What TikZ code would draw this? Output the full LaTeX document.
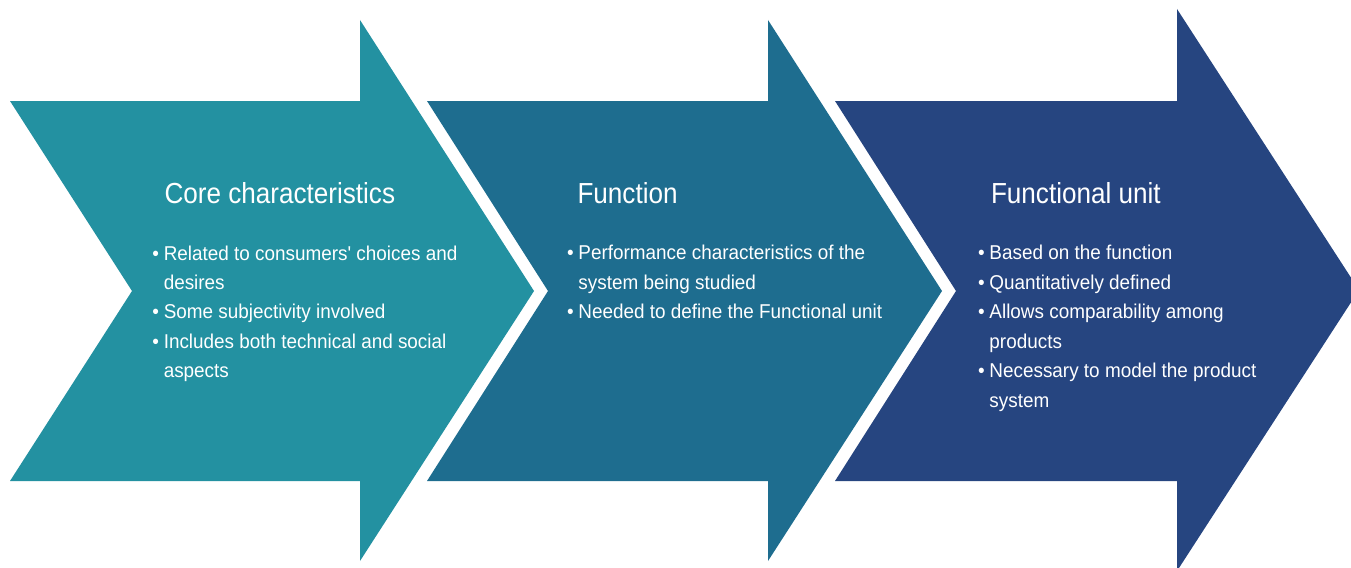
\documentclass[tikz,border=0pt]{standalone}
\usepackage{fontspec}
\setmainfont{Liberation Sans}[FakeStretch=0.9]
\newfontfamily\listfont{Liberation Sans}[FakeStretch=0.945]

\definecolor{coreteal}{RGB}{35,145,161}
\definecolor{funcblue}{RGB}{30,109,143}
\definecolor{unitnavy}{RGB}{38,69,128}

\newcommand{\bitem}[1]{\makebox[8.6pt][l]{\textbullet}#1}
\newcommand{\bcont}[1]{\hspace*{8.6pt}#1}

\tikzset{every picture/.style={line width=0.75pt}}
\tikzset{
  chevron/.style={draw=none},
  titletext/.style={anchor=base west,inner sep=0pt,text=white,font=\fontsize{21.75}{26}\selectfont},
  listtext/.style={anchor=base west,inner sep=0pt,text=white,align=left,font=\listfont\fontsize{15}{22.1}\selectfont}
}

\begin{document}
\begin{tikzpicture}[x=0.75pt,y=0.75pt,yscale=-1,xscale=1]
\useasboundingbox (0,0) rectangle (1351,567);
\clip (0,0) rectangle (1351,567);

%Shape: Chevron Arrow [id:core]
\fill [chevron, fill=coreteal] (10,101) -- (360,101) -- (360,20) -- (534,291) -- (360,561) -- (360,481) -- (10,481) -- (132,291) -- cycle ;
%Shape: Chevron Arrow [id:func]
\fill [chevron, fill=funcblue] (427,101) -- (768,101) -- (768,20) -- (942,291) -- (768,561) -- (768,481) -- (427,481) -- (548,291) -- cycle ;
%Shape: Chevron Arrow [id:unit]
\fill [chevron, fill=unitnavy] (835,101) -- (1177,101) -- (1177,9) -- (1359,290) -- (1177,571) -- (1177,481) -- (835,481) -- (956,291) -- cycle ;

% Text Node (base = last line)
\draw (164,203) node [titletext] (coretitle) {Core characteristics};
% Text Node
\draw (151.8,377.9) node [listtext] (corelist) {\bitem{Related to consumers' choices and}\\ \bcont{desires}\\ \bitem{Some subjectivity involved}\\ \bitem{Includes both technical and social}\\ \bcont{aspects}};
% Text Node
\draw (577,203) node [titletext] (functitle) {Function};
% Text Node
\draw (566.5,318.9) node [listtext] (funclist) {\bitem{Performance characteristics of the}\\ \bcont{system being studied}\\ \bitem{Needed to define the Functional unit}};
% Text Node
\draw (990.5,203) node [titletext] (unittitle) {Functional unit};
% Text Node
\draw (977.5,407.3) node [listtext] (unitlist) {\bitem{Based on the function}\\ \bitem{Quantitatively defined}\\ \bitem{Allows comparability among}\\ \bcont{products}\\ \bitem{Necessary to model the product}\\ \bcont{system}};

\end{tikzpicture}
\end{document}
